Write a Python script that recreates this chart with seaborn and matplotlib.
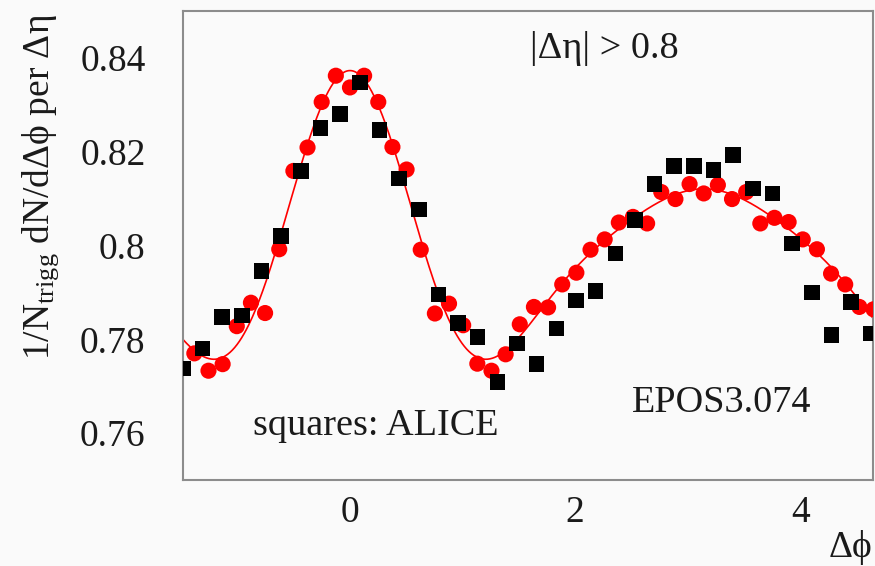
import numpy as np
import pandas as pd
import matplotlib
matplotlib.use("Agg")
import matplotlib.pyplot as plt
from matplotlib.ticker import MultipleLocator, FixedLocator, FixedFormatter
import seaborn as sns

# EPOS3.074 simulation: 50 bins over 2*pi, bin index k -> centre k*2*pi/50
epos_bin = list(range(-11, 38))
epos_y = [0.7770, 0.7733, 0.7747, 0.7828, 0.7878, 0.7856, 0.7992, 0.8159,
          0.8209, 0.8306, 0.8362, 0.8337, 0.8362, 0.8306, 0.8210, 0.8162,
          0.7991, 0.7855, 0.7876, 0.7830, 0.7748, 0.7733, 0.7768, 0.7832,
          0.7869, 0.7868, 0.7917, 0.7942, 0.7991, 0.8013, 0.8049, 0.8061,
          0.8047, 0.8114, 0.8099, 0.8131, 0.8111, 0.8129, 0.8099, 0.8114,
          0.8047, 0.8059, 0.8050, 0.8013, 0.7992, 0.7940, 0.7917, 0.7869,
          0.7864]

# ALICE data: 36 bins over 2*pi, bin index k -> centre (k+0.5)*pi/18
alice_bin = list(range(-9, 27))
alice_y = [0.7738, 0.7780, 0.7847, 0.7851, 0.7946, 0.8020, 0.8159, 0.8251,
           0.8280, 0.8348, 0.8246, 0.8143, 0.8077, 0.7896, 0.7835, 0.7805,
           0.7709, 0.7791, 0.7747, 0.7823, 0.7883, 0.7903, 0.7983, 0.8054,
           0.8131, 0.8169, 0.8169, 0.8161, 0.8193, 0.8122, 0.8111, 0.8004,
           0.7900, 0.7809, 0.7880, 0.7812]

y_ticks = [0.76, 0.78, 0.80, 0.82, 0.84]
y_tick_labels = ["0.76", "0.78", "0.8", "0.82", "0.84"]
x_ticks = [0, 2, 4]
x_tick_labels = ["0", "2", "4"]

epos = pd.DataFrame({"dphi": np.array(epos_bin) * 2 * np.pi / 50, "y": epos_y})
alice = pd.DataFrame({"dphi": (np.array(alice_bin) + 0.5) * np.pi / 18, "y": alice_y})

# Fourier (cosine) fit of the EPOS points, periodic in dphi
n_harm = 5
def design(x):
    return np.column_stack([np.ones_like(x)] + [np.cos(n * x) for n in range(1, n_harm + 1)])
coef, *_ = np.linalg.lstsq(design(epos["dphi"].to_numpy()), epos["y"].to_numpy(), rcond=None)

x_lo, x_hi = -1.483, 4.645
grid = np.linspace(x_lo - 0.05, x_hi + 0.05, 600)
fit = pd.DataFrame({"dphi": grid, "y": design(grid) @ coef})

sns.set_style("white")
plt.rcParams["font.family"] = ["Liberation Serif", "DejaVu Serif"]
plt.rcParams["mathtext.fontset"] = "custom"
plt.rcParams["mathtext.rm"] = "Liberation Serif"
plt.rcParams["mathtext.it"] = "Liberation Serif:italic"

bg = "#fafafa"
ink = "#1a1a1a"
fig = plt.figure(figsize=(8.75, 5.66), dpi=100, facecolor=bg)
ax = fig.add_axes([183 / 875, 1 - 480 / 566, 690 / 875, 469 / 566])
ax.set_facecolor(bg)

sns.lineplot(data=fit, x="dphi", y="y", color="#ff0000", linewidth=1.2, ax=ax, zorder=2)
sns.scatterplot(data=epos, x="dphi", y="y", marker="o", s=135, color="#ff0000",
                edgecolor="none", linewidth=0, ax=ax, zorder=3)
sns.scatterplot(data=alice, x="dphi", y="y", marker="s", s=125, color="#000000",
                edgecolor="none", linewidth=0, ax=ax, zorder=4)

ax.set_xlim(x_lo, x_hi)
ax.set_ylim(0.75, 0.85)

ax.xaxis.set_major_locator(FixedLocator(x_ticks))
ax.xaxis.set_major_formatter(FixedFormatter(x_tick_labels))
ax.xaxis.set_minor_locator(MultipleLocator(0.5))
ax.yaxis.set_major_locator(FixedLocator(y_ticks))
ax.yaxis.set_major_formatter(FixedFormatter(y_tick_labels))
ax.yaxis.set_minor_locator(MultipleLocator(0.005))

tick_col = "#b4b4b4"
ax.tick_params(axis="x", which="major", direction="in", length=20, width=1.1,
               color=tick_col, labelsize=27, pad=11, labelcolor=ink)
ax.tick_params(axis="x", which="minor", direction="in", length=9.5, width=1.1, color=tick_col)
ax.tick_params(axis="y", which="major", direction="in", length=12.5, width=1.1,
               color=tick_col, labelsize=27, pad=27, labelcolor=ink)
ax.tick_params(axis="y", which="minor", direction="in", length=9, width=1.1, color=tick_col)
ax.tick_params(top=False, right=False, which="both")

for side, sp in ax.spines.items():
    sp.set_visible(True)
    sp.set_color("#8c8c8c")
    sp.set_linewidth(1.5)

ax.set_xlabel("")
ax.set_ylabel("")

txt = dict(fontsize=27.5, color=ink, transform=ax.transAxes)
ax.text(0.503, 0.900, "|Δη| > 0.8", ha="left", va="baseline", **txt)
ax.text(0.651, 0.145, "EPOS3.074", ha="left", va="baseline", **txt)
ax.text(0.101, 0.096, "squares: ALICE", ha="left", va="baseline", **txt)

fig.text(872 / 875, 1 - 557 / 566, "Δϕ", ha="right", va="baseline",
         fontsize=27, color=ink)
fig.text(41 / 875, 1 - 14 / 566, r"1/N$_{\mathrm{trigg}}$ dN/dΔϕ per Δη",
         rotation=90, ha="center", va="top", fontsize=27, color=ink)

fig.savefig("out.png", dpi=100, facecolor=bg)
